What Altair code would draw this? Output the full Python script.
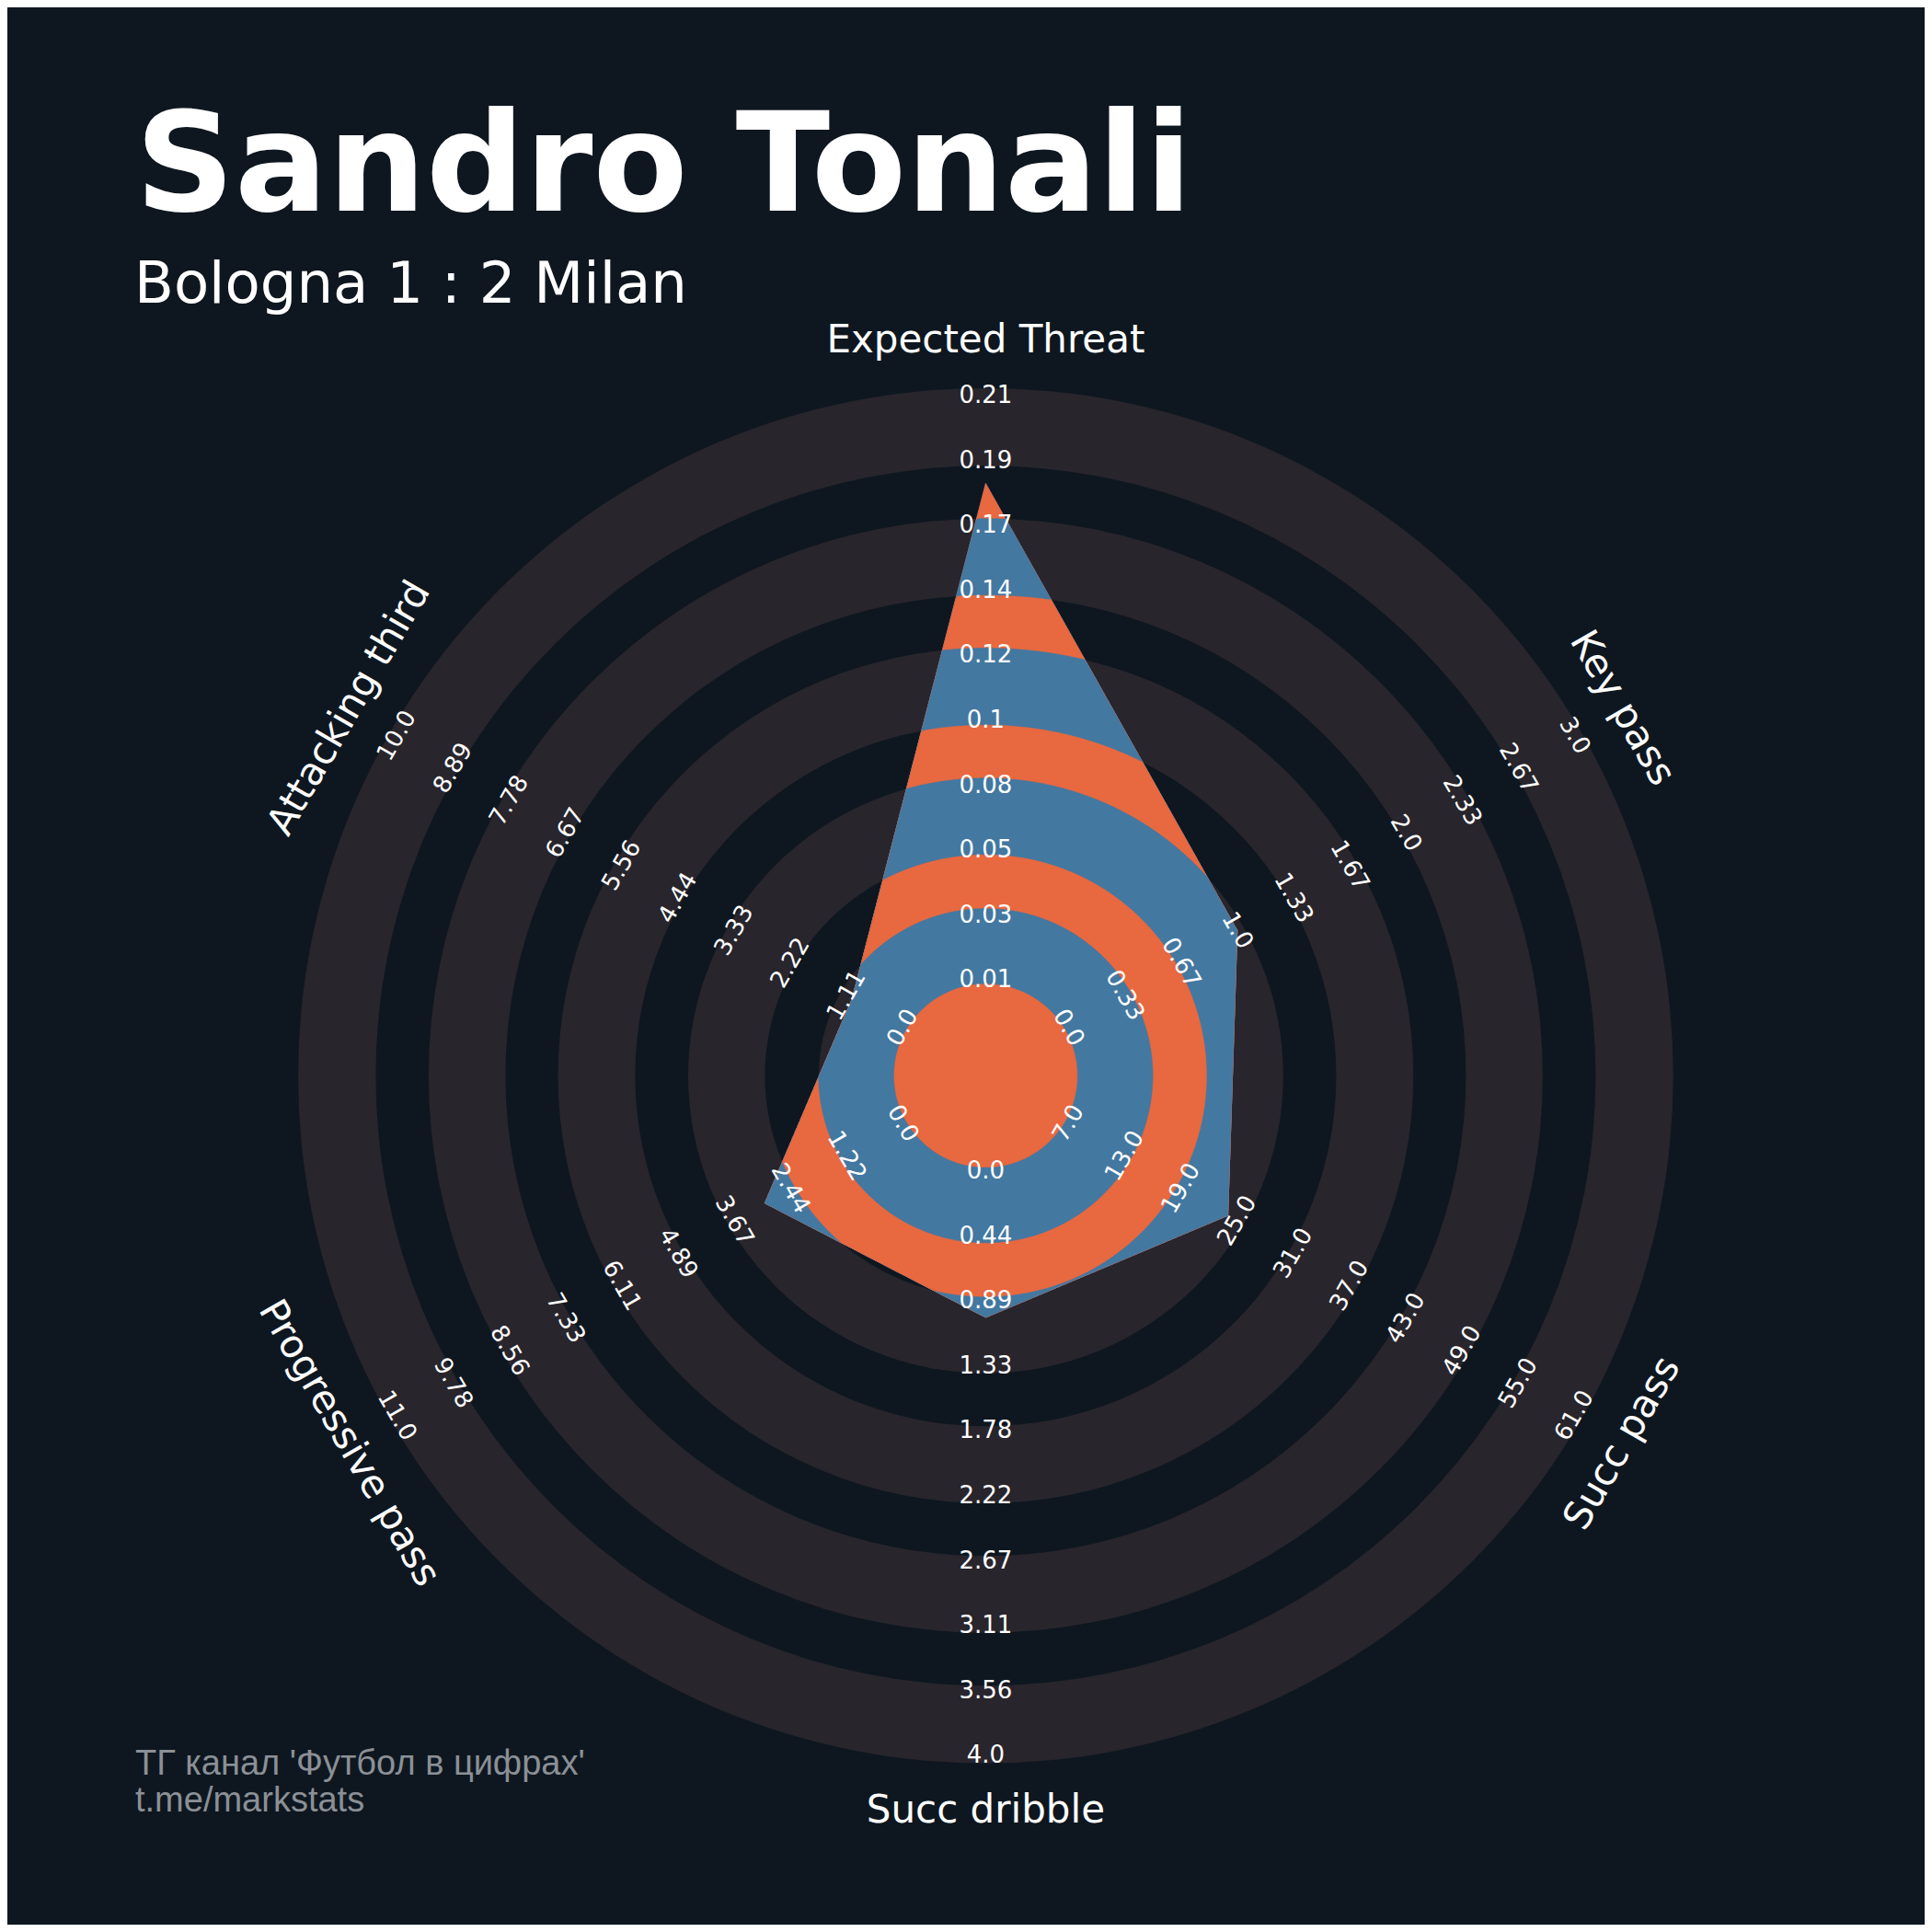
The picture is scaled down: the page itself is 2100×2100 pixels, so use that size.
import math
import pandas as pd
import altair as alt

# ---------------- data ----------------
player_name = "Sandro Tonali"
match_line = "Bologna 1 : 2 Milan"
params = ["Expected Threat", "Key pass", "Succ pass", "Succ dribble",
          "Progressive pass", "Attacking third"]
values = [0.18, 1, 24, 1, 3, 1]
range_low = [0.01, 0, 7, 0, 0, 0]
range_high = [0.21, 3, 61, 4, 11, 10]
tick_labels = [
    ["0.01", "0.03", "0.05", "0.08", "0.1", "0.12", "0.14", "0.17", "0.19", "0.21"],
    ["0.0", "0.33", "0.67", "1.0", "1.33", "1.67", "2.0", "2.33", "2.67", "3.0"],
    ["7.0", "13.0", "19.0", "25.0", "31.0", "37.0", "43.0", "49.0", "55.0", "61.0"],
    ["0.0", "0.44", "0.89", "1.33", "1.78", "2.22", "2.67", "3.11", "3.56", "4.0"],
    ["0.0", "1.22", "2.44", "3.67", "4.89", "6.11", "7.33", "8.56", "9.78", "11.0"],
    ["0.0", "1.11", "2.22", "3.33", "4.44", "5.56", "6.67", "7.78", "8.89", "10.0"],
]
credit_lines = ["ТГ канал 'Футбол в цифрах'", "t.me/markstats"]

# ---------------- style / layout ----------------
BG = "#0e1720"
RING = "#28252c"
ORANGE = "#e8683f"
BLUE = "#4378a1"
WHITE = "#ffffff"
CREDIT = "#8b9096"
FONT = "DejaVu Sans"

W = H = 2084
CX, CY = 1063.4, 1161.2          # centre of the radar inside the plot area
R_TICK_FIRST, R_TICK_LAST = 104.0, 739.0
R_PARAM = 799.0
RING_EDGES = [99.5, 181.6, 240.0, 323.4, 381.0, 464.7, 522.0, 605.5, 663.0, 747.3]
N_SAMPLES = 1800

xs = alt.Scale(domain=[-CX, W - CX], nice=False, zero=False)
ys = alt.Scale(domain=[-(H - CY), CY], nice=False, zero=False)
rs = alt.Scale(type="linear", domain=[0, 1000], range=[0, 1000], zero=True, nice=False)

n = len(params)
axis_deg = [90 - 360 / n * i for i in range(n)]


def tangent_angle(a):
    ccw = ((a - 90 + 90) % 180) - 90
    return (-ccw) % 360


def to_radius(v, lo, hi):
    return R_TICK_FIRST + (v - lo) / (hi - lo) * (R_TICK_LAST - R_TICK_FIRST)


# polygon vertices
verts = []
for i in range(n):
    r = to_radius(values[i], range_low[i], range_high[i])
    a = math.radians(axis_deg[i])
    verts.append((r * math.cos(a), r * math.sin(a)))


def rho(deg):
    j = int(((90 - deg) % 360) // (360 / n)) % n
    A = verts[j]
    B = verts[(j + 1) % n]
    ex, ey = B[0] - A[0], B[1] - A[1]
    t = math.radians(deg)
    dx, dy = math.cos(t), math.sin(t)
    return (A[0] * ey - A[1] * ex) / (dx * ey - dy * ex)


# ---------------- background rings ----------------
ring_df = pd.DataFrame({
    "r_in": RING_EDGES[0::2],
    "r_out": RING_EDGES[1::2],
    "cx": 0.0, "cy": 0.0,
})
rings = alt.Chart(ring_df).mark_arc(color=RING).encode(
    x=alt.X("cx:Q", scale=xs, axis=None),
    y=alt.Y("cy:Q", scale=ys, axis=None),
    theta=alt.value(0),
    theta2=alt.value(2 * math.pi),
    radius=alt.Radius("r_in:Q", scale=rs),
    radius2="r_out:Q",
)

# ---------------- radar polygon, banded by the rings ----------------
rows = []
edges_desc = sorted(RING_EDGES, reverse=True)
for li, R in enumerate(edges_desc):
    for k in range(N_SAMPLES):
        deg = 90 - k * 360 / N_SAMPLES
        t = math.radians(deg)
        r = min(R, rho(deg))
        rows.append({"layer": li, "idx": k, "x": r * math.cos(t), "y": r * math.sin(t)})
poly_df = pd.DataFrame(rows)

poly_layers = []
for li, R in enumerate(edges_desc):
    band = RING_EDGES.index(R)
    col = BLUE if band % 2 == 1 else ORANGE
    poly_layers.append(
        alt.Chart(poly_df).transform_filter(alt.datum.layer == li)
        .mark_line(interpolate="linear-closed", fill=col, stroke=col, strokeWidth=0.6)
        .encode(
            x=alt.X("x:Q", scale=xs, axis=None),
            y=alt.Y("y:Q", scale=ys, axis=None),
            order="idx:Q",
        )
    )

# ---------------- range labels ----------------
trows = []
for i in range(n):
    a = math.radians(axis_deg[i])
    for j, lab in enumerate(tick_labels[i]):
        r = R_TICK_FIRST + j * (R_TICK_LAST - R_TICK_FIRST) / 9
        trows.append({"x": r * math.cos(a), "y": r * math.sin(a),
                      "label": lab, "rot": tangent_angle(axis_deg[i])})
tick_df = pd.DataFrame(trows)
ticks = alt.Chart(tick_df).mark_text(
    font=FONT, fontSize=26, color=WHITE, align="center", baseline="middle"
).encode(
    x=alt.X("x:Q", scale=xs, axis=None),
    y=alt.Y("y:Q", scale=ys, axis=None),
    text="label:N",
    angle=alt.Angle("rot:Q", scale=None),
)

# ---------------- parameter labels ----------------
prow = []
for i in range(n):
    a = math.radians(axis_deg[i])
    prow.append({"x": R_PARAM * math.cos(a), "y": R_PARAM * math.sin(a),
                 "label": params[i], "rot": tangent_angle(axis_deg[i])})
param_df = pd.DataFrame(prow)
plabels = alt.Chart(param_df).mark_text(
    font=FONT, fontSize=42, color=WHITE, align="center", baseline="middle"
).encode(
    x=alt.X("x:Q", scale=xs, axis=None),
    y=alt.Y("y:Q", scale=ys, axis=None),
    text="label:N",
    angle=alt.Angle("rot:Q", scale=None),
)

# ---------------- titles and credits ----------------
title = alt.Chart(pd.DataFrame({"t": [player_name]})).mark_text(
    font=FONT, fontSize=150, fontWeight="bold", color=WHITE,
    align="left", baseline="alphabetic"
).encode(text="t:N", x=alt.value(139), y=alt.value(221))

subtitle = alt.Chart(pd.DataFrame({"t": [match_line]})).mark_text(
    font=FONT, fontSize=62.5, color=WHITE, align="left", baseline="alphabetic"
).encode(text="t:N", x=alt.value(138), y=alt.value(321))

credit1 = alt.Chart(pd.DataFrame({"t": [credit_lines[0]]})).mark_text(
    font="Liberation Sans", fontSize=38, color=CREDIT, align="left", baseline="alphabetic"
).encode(text="t:N", x=alt.value(139), y=alt.value(1921))

credit2 = alt.Chart(pd.DataFrame({"t": [credit_lines[1]]})).mark_text(
    font="Liberation Sans", fontSize=38, color=CREDIT, align="left", baseline="alphabetic"
).encode(text="t:N", x=alt.value(139), y=alt.value(1961))

chart = alt.layer(
    rings, *poly_layers, ticks, plabels, title, subtitle, credit1, credit2
).properties(
    width=W, height=H, background=BG, padding=0,
    autosize=alt.AutoSizeParams(type="none"),
).configure_view(strokeWidth=0)

chart.save("out.html", embed_options={"renderer": "svg", "actions": False})
